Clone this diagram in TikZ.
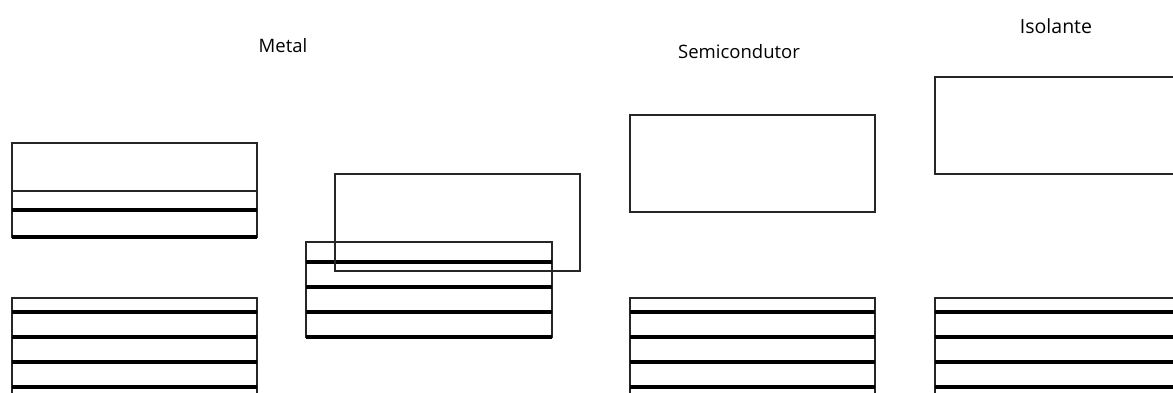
\documentclass[tikz,border=0pt]{standalone}
\usepackage{fontspec}
\setsansfont{Open Sans}
\usetikzlibrary{positioning}

\begin{document}
\begin{tikzpicture}[x=1pt, y=-1pt,
    band/.style={draw=black!85, line width=1.3pt},
    fullline/.style={draw=black, line width=3.2pt},
    title/.style={font=\sffamily\fontsize{18.5}{22}\selectfont, anchor=base}
  ]
    \useasboundingbox (0,0) rectangle (1173,393);
    \clip (0,0) rectangle (1173,393);

    % titles
    \node[title] (metal) at (283,53) {Metal};
    \node[title] (semi) at (739,59) {Semicondutor};
    \node[title] (iso) at (1056,34) {\fontsize{19.5}{22}\selectfont Isolante};

    % filled bands at the bottom of each column
    \foreach \x in {12,630,935} {
      \draw[band] (\x,400) -- (\x,298) -- (\x+245,298) -- (\x+245,400);
      \foreach \y in {312,337,362,387}
        \draw[fullline] (\x,\y) -- (\x+245,\y);
    }

    % metal, half filled band
    \draw[band] (12,143) rectangle (257,237);
    \draw[band] (12,191) -- (257,191);
    \draw[fullline] (12,210) -- (257,210);
    \draw[fullline] (12,237) -- (257,237);

    % metal, overlapping bands
    \draw[band] (306,242) rectangle (552,337);
    \foreach \y in {262,287,312,337}
      \draw[fullline] (306,\y) -- (552,\y);
    \draw[band] (335,174) rectangle (580,271);

    % empty conduction bands
    \draw[band] (630,115) rectangle (875,212);
    \draw[band] (935,77) rectangle (1180,174);
  \end{tikzpicture}
\end{document}
